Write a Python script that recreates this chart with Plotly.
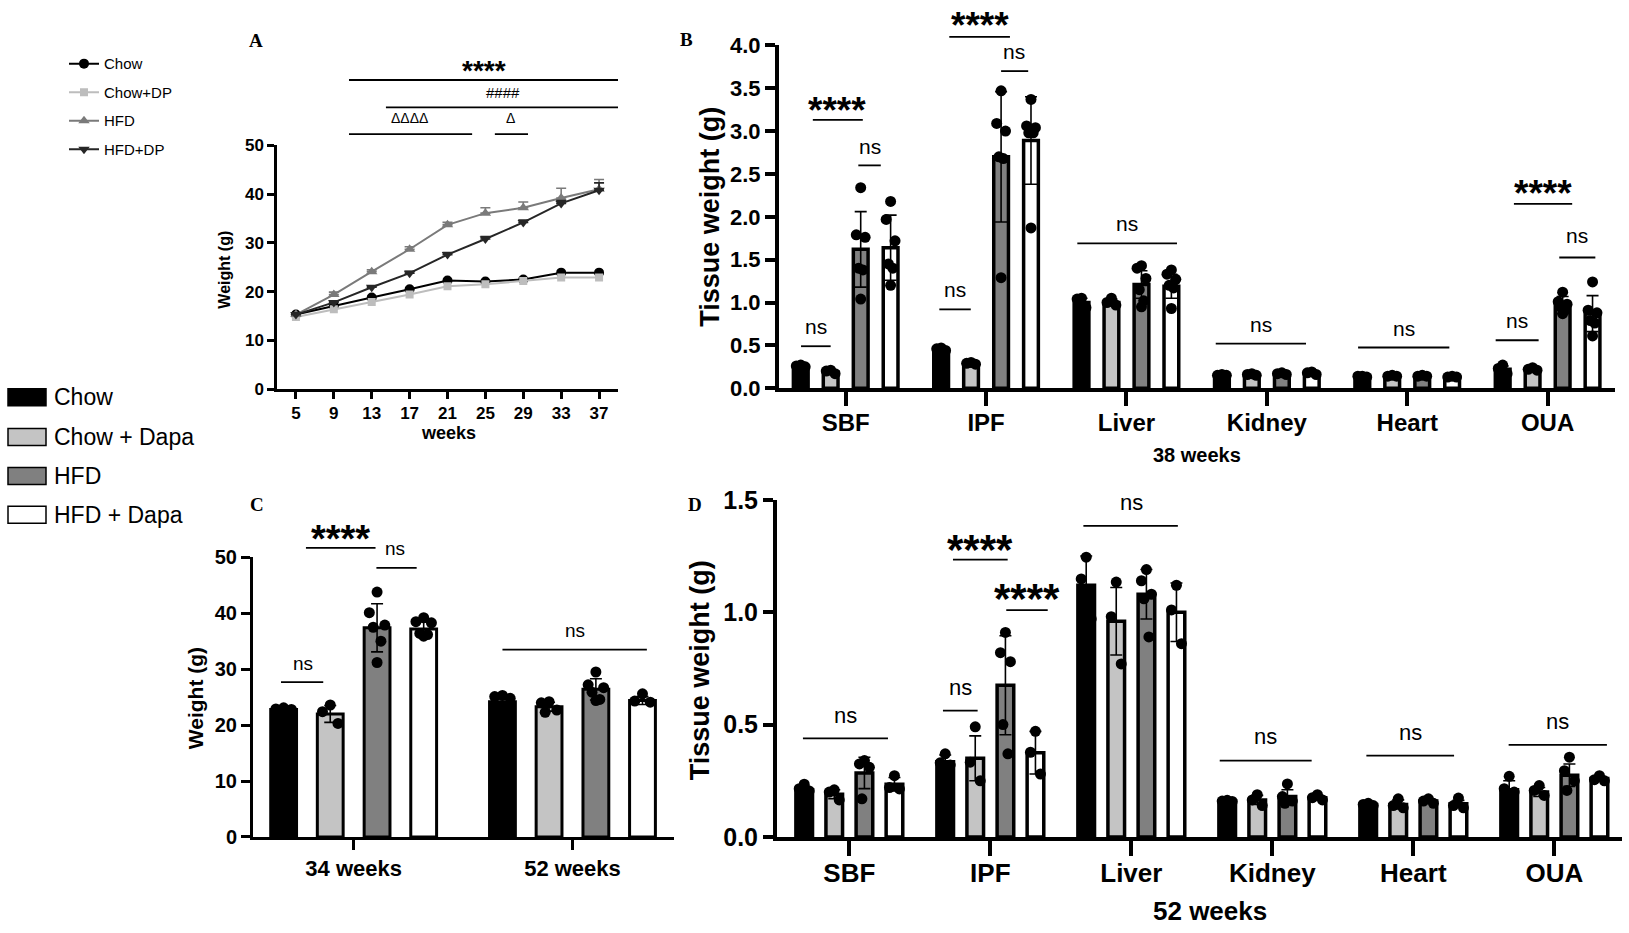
import numpy as np
import plotly.graph_objects as go

W, H = 1629, 933
SANS = "Liberation Sans, Arial, sans-serif"
NARROW = "Liberation Sans Narrow, Arial Narrow, Liberation Sans, sans-serif"
SERIF = "Liberation Serif, Times New Roman, serif"

# the photographed page shows the figure slightly squeezed vertically,
# so reference pixel rows are mapped through this before use
TOP_BAND = 12.5
SQUEEZE = 0.9733

# ---------------- data ----------------
groups = ["Chow", "Chow + Dapa", "HFD", "HFD + Dapa"]
bar_colors = ["#000000", "#c4c4c4", "#808080", "#ffffff"]

# A: body weight curve
weeks = [5, 9, 13, 17, 21, 25, 29, 33, 37]
a_chow = [15.3, 17.1, 18.8, 20.5, 22.3, 22.1, 22.5, 23.9, 23.9]
a_chow_dp = [14.8, 16.4, 17.9, 19.4, 21.1, 21.5, 22.2, 22.9, 22.9]
a_hfd = [15.3, 19.4, 24.1, 28.7, 33.7, 36.1, 37.2, 39.2, 41.0]
a_hfd_dp = [15.3, 17.8, 20.9, 23.8, 27.6, 30.8, 34.2, 38.1, 40.8]
a_hfd_err = [0.3, 0.5, 0.4, 0.5, 0.5, 1.1, 1.2, 2.0, 2.0]
a_hfd_dp_err = [0.3, 0.3, 0.3, 0.4, 0.4, 0.5, 0.5, 0.6, 1.5]

# B: tissue weight at 38 weeks
tissues = ["SBF", "IPF", "Liver", "Kidney", "Heart", "OUA"]
b_mean_chow = [0.25, 0.42, 1.00, 0.15, 0.14, 0.22]
b_mean_chow_dapa = [0.19, 0.28, 1.00, 0.15, 0.14, 0.21]
b_mean_hfd = [1.62, 2.70, 1.21, 0.16, 0.14, 0.97]
b_mean_hfd_dapa = [1.64, 2.89, 1.19, 0.17, 0.13, 0.87]
b_sd_chow = [0.02, 0.05, 0.05, 0.01, 0.01, 0.04]
b_sd_chow_dapa = [0.02, 0.01, 0.04, 0.01, 0.01, 0.02]
b_sd_hfd = [0.44, 0.76, 0.16, 0.01, 0.01, 0.10]
b_sd_hfd_dapa = [0.38, 0.51, 0.14, 0.02, 0.01, 0.21]
b_pts_chow = [[0.27, 0.26, 0.25], [0.47, 0.46, 0.44], [1.05, 1.04, 0.94],
              [0.16, 0.15, 0.15], [0.14, 0.14, 0.13], [0.27, 0.23, 0.17]]
b_pts_chow_dapa = [[0.21, 0.20, 0.17], [0.30, 0.29, 0.28], [1.05, 1.00, 0.97],
                   [0.17, 0.16, 0.15], [0.15, 0.14, 0.14], [0.24, 0.22, 0.21]]
b_pts_hfd = [[2.34, 1.79, 1.76, 1.40, 1.38, 1.04], [3.47, 3.09, 3.00, 2.70, 2.68, 1.29],
             [1.43, 1.40, 1.28, 1.15, 1.02, 0.95], [0.18, 0.17, 0.16],
             [0.15, 0.14, 0.14], [1.12, 1.01, 0.98, 0.95, 0.91, 0.87]]
b_pts_hfd_dapa = [[2.18, 1.97, 1.72, 1.45, 1.40, 1.20], [3.37, 3.06, 3.04, 2.98, 2.98, 1.87],
                  [1.38, 1.33, 1.27, 1.20, 1.17, 0.93], [0.19, 0.18, 0.16],
                  [0.14, 0.13, 0.13], [1.24, 0.91, 0.88, 0.79, 0.76, 0.61]]

# C: body weight at 34 and 52 weeks
c_ages = ["34 weeks", "52 weeks"]
c_mean_chow = [22.8, 24.2]
c_mean_chow_dapa = [22.0, 23.3]
c_mean_hfd = [37.4, 26.4]
c_mean_hfd_dapa = [37.2, 24.4]
c_sd_chow = [0.3, 0.9]
c_sd_chow_dapa = [1.5, 0.8]
c_sd_hfd = [4.3, 1.9]
c_sd_hfd_dapa = [1.4, 0.7]
c_pts_chow = [[23.1, 22.9, 22.8, 22.6], [25.3, 25.1, 24.8, 23.0, 22.8]]
c_pts_chow_dapa = [[23.6, 22.4, 20.3], [24.2, 24.0, 22.7, 22.3]]
c_pts_hfd = [[43.8, 40.1, 37.9, 37.5, 35.0, 31.2], [29.5, 27.2, 26.7, 25.9, 24.6, 24.4]]
c_pts_hfd_dapa = [[39.2, 38.5, 38.3, 36.4, 36.2, 35.9], [25.6, 24.3, 24.1]]

# D: tissue weight at 52 weeks
d_mean_chow = [0.21, 0.335, 1.12, 0.16, 0.145, 0.21]
d_mean_chow_dapa = [0.19, 0.35, 0.96, 0.165, 0.145, 0.20]
d_mean_hfd = [0.285, 0.675, 1.08, 0.18, 0.16, 0.275]
d_mean_hfd_dapa = [0.235, 0.375, 1.00, 0.175, 0.148, 0.26]
d_sd_chow = [0.015, 0.03, 0.13, 0.005, 0.005, 0.04]
d_sd_chow_dapa = [0.02, 0.10, 0.15, 0.02, 0.02, 0.02]
d_sd_hfd = [0.07, 0.22, 0.11, 0.03, 0.01, 0.05]
d_sd_hfd_dapa = [0.03, 0.095, 0.13, 0.01, 0.015, 0.01]
d_pts_chow = [[0.235, 0.215, 0.205], [0.37, 0.33, 0.32], [1.245, 1.148, 0.97],
              [0.163, 0.16, 0.158], [0.15, 0.145, 0.14], [0.27, 0.215, 0.20]]
d_pts_chow_dapa = [[0.21, 0.20, 0.165], [0.49, 0.333, 0.25], [1.134, 0.98, 0.77],
                   [0.188, 0.165, 0.14], [0.17, 0.14, 0.13], [0.229, 0.207, 0.185]]
d_pts_hfd = [[0.34, 0.325, 0.31, 0.17], [0.91, 0.82, 0.78, 0.50, 0.37],
             [1.19, 1.14, 1.08, 1.06, 0.89], [0.236, 0.18, 0.16, 0.15],
             [0.17, 0.16, 0.15], [0.355, 0.295, 0.25, 0.207]]
d_pts_hfd_dapa = [[0.273, 0.22, 0.214], [0.47, 0.377, 0.28], [1.12, 1.01, 0.86],
                  [0.188, 0.175, 0.165], [0.173, 0.14, 0.13], [0.273, 0.255, 0.25]]

# ---------------- layout helpers ----------------
OFFSETS = [-0.32, -0.107, 0.107, 0.32]


def px(x):
    return x / W


def py(y):
    return 1 - (y - TOP_BAND) / (SQUEEZE * H)


def jitter(n, bar_w):
    pattern = [0.0, -0.3, 0.3, -0.15, 0.15, 0.0]
    return [pattern[k % len(pattern)] * bar_w for k in range(n)]


def add_bar_panel(fig, xa, ya, means, sds, pts, bar_w, dot_size, line_w):
    for g in range(4):
        xs = [i + OFFSETS[g] for i in range(len(means[g]))]
        fig.add_trace(go.Bar(
            x=xs, y=means[g], width=bar_w, xaxis=xa, yaxis=ya,
            marker=dict(color=bar_colors[g], line=dict(color="black", width=line_w)),
            error_y=dict(type="data", array=sds[g], color="black", thickness=1.6, width=6),
            showlegend=False, hoverinfo="skip",
        ))
    for g in range(4):
        dx, dy = [], []
        for i, vals in enumerate(pts[g]):
            dx += [i + OFFSETS[g] + s for s in jitter(len(vals), bar_w)]
            dy += vals
        fig.add_trace(go.Scatter(
            x=dx, y=dy, mode="markers", xaxis=xa, yaxis=ya,
            marker=dict(color="black", size=dot_size), showlegend=False, hoverinfo="skip",
        ))


def axis_style(lw, tl, size, family=SANS):
    return dict(
        showline=True, linecolor="black", linewidth=lw, ticks="outside", ticklen=tl,
        tickwidth=lw, tickcolor="black", showgrid=False, zeroline=False,
        tickfont=dict(family=family, size=size, color="black", weight="bold"),
    )


def add_sig(fig, xa, ya, ymax, x0, x1, yl, text, tx, ty, size, bold=False, family=SANS):
    fig.add_shape(type="line", xref=xa, yref=f"{ya} domain", x0=x0, x1=x1,
                  y0=yl / ymax, y1=yl / ymax, line=dict(color="black", width=1.8))
    shift = -0.22 * size if "*" in text else 0
    fig.add_annotation(xref=xa, yref=f"{ya} domain", x=tx, y=ty / ymax, text=text,
                       showarrow=False, yanchor="middle", yshift=shift,
                       font=dict(family=family, size=size, color="black",
                                 weight="bold" if bold else "normal"))


def add_text(fig, x, y, text, size, family=SANS, bold=True, angle=0, xanchor="center"):
    fig.add_annotation(xref="paper", yref="paper", x=px(x), y=py(y), text=text,
                       showarrow=False, textangle=angle, xanchor=xanchor, yanchor="middle",
                       font=dict(family=family, size=size, color="black",
                                 weight="bold" if bold else "normal"))


fig = go.Figure()

# ---------------- panel A ----------------
line_specs = [
    ("Chow", a_chow, None, "#000000", "circle", 10),
    ("Chow+DP", a_chow_dp, None, "#bdbdbd", "square", 8),
    ("HFD", a_hfd, a_hfd_err, "#7a7a7a", "triangle-up", 10),
    ("HFD+DP", a_hfd_dp, a_hfd_dp_err, "#262626", "triangle-down", 10),
]
for name, ys, err, col, sym, size in line_specs:
    fig.add_trace(go.Scatter(
        x=weeks, y=ys, name=name, mode="lines+markers", xaxis="x", yaxis="y",
        line=dict(color=col, width=2), legendgroup=name,
        marker=dict(color=col, symbol=sym, size=size),
        error_y=None if err is None else dict(type="data", array=err,
                                                arrayminus=[0] * len(err), symmetric=False,
                                                color=col, thickness=1.6, width=5),
    ))

# ---------------- panels B, C, D ----------------
add_bar_panel(fig, "x2", "y2",
              [b_mean_chow, b_mean_chow_dapa, b_mean_hfd, b_mean_hfd_dapa],
              [b_sd_chow, b_sd_chow_dapa, b_sd_hfd, b_sd_hfd_dapa],
              [b_pts_chow, b_pts_chow_dapa, b_pts_hfd, b_pts_hfd_dapa],
              bar_w=0.105, dot_size=11, line_w=3.5)
add_bar_panel(fig, "x3", "y3",
              [c_mean_chow, c_mean_chow_dapa, c_mean_hfd, c_mean_hfd_dapa],
              [c_sd_chow, c_sd_chow_dapa, c_sd_hfd, c_sd_hfd_dapa],
              [c_pts_chow, c_pts_chow_dapa, c_pts_hfd, c_pts_hfd_dapa],
              bar_w=0.118, dot_size=11, line_w=3)
add_bar_panel(fig, "x4", "y4",
              [d_mean_chow, d_mean_chow_dapa, d_mean_hfd, d_mean_hfd_dapa],
              [d_sd_chow, d_sd_chow_dapa, d_sd_hfd, d_sd_hfd_dapa],
              [d_pts_chow, d_pts_chow_dapa, d_pts_hfd, d_pts_hfd_dapa],
              bar_w=0.118, dot_size=11, line_w=3.5)

# ---------------- axes ----------------
fig.update_layout(
    width=W, height=H, margin=dict(l=0, r=0, t=0, b=0),
    paper_bgcolor="white", plot_bgcolor="white", barmode="overlay",
    font=dict(family=SANS, color="black"),
    xaxis=dict(domain=[px(277), px(618)], range=[3, 39], anchor="y",
               tickvals=weeks, **axis_style(2.5, 7, 17, NARROW)),
    yaxis=dict(domain=[py(389), py(144.3)], range=[0, 50], anchor="x",
               tickvals=[0, 10, 20, 30, 40, 50], **axis_style(2.5, 7, 17, NARROW)),
    xaxis2=dict(domain=[px(779), px(1615)], range=[-0.475, 5.48], anchor="y2",
                tickvals=list(range(6)), ticktext=tissues, ticklabelstandoff=-4,
                **axis_style(4, 14, 24)),
    yaxis2=dict(domain=[py(388), py(44)], range=[0, 4], anchor="x2",
                tickvals=[0, 0.5, 1, 1.5, 2, 2.5, 3, 3.5, 4], tickformat=".1f",
                **axis_style(4, 10, 22)),
    xaxis3=dict(domain=[px(253), px(674)], range=[-0.46, 1.464], anchor="y3",
                tickvals=[0, 1], ticktext=c_ages, **axis_style(3, 10, 22)),
    yaxis3=dict(domain=[py(838.3), py(557.7)], range=[0, 50], anchor="x3",
                tickvals=[0, 10, 20, 30, 40, 50], **axis_style(3, 9, 20, NARROW)),
    xaxis4=dict(domain=[px(777), px(1622)], range=[-0.513, 5.48], anchor="y4",
                tickvals=list(range(6)), ticktext=tissues, ticklabelstandoff=-5,
                **axis_style(4, 15, 26)),
    yaxis4=dict(domain=[py(838.3), py(500)], range=[0, 1.5], anchor="x4",
                tickvals=[0, 0.5, 1, 1.5], tickformat=".1f", **axis_style(4, 10, 25)),
    legend=dict(x=px(64), y=py(46), xanchor="left", yanchor="top",
                font=dict(family=SANS, size=15, color="black"),
                bgcolor="rgba(0,0,0,0)", tracegroupgap=6, itemwidth=30),
    showlegend=True,
)

# ---------------- significance marks ----------------
# panel A (weeks, grams)
add_sig(fig, "x", "y", 50, 10.6, 39, 63.4, "****", 24.9, 66.6, 28, bold=True)
add_sig(fig, "x", "y", 50, 14.5, 39, 57.8, "####", 26.9, 60.9, 15)
add_sig(fig, "x", "y", 50, 10.6, 23.6, 52.3, "ΔΔΔΔ", 17.0, 55.6, 14)
add_sig(fig, "x", "y", 50, 26.0, 29.5, 52.3, "Δ", 27.7, 55.6, 14)

# panel B
b_sigs = [
    (-0.234, 0.122, 3.13, "****", -0.06, 3.34, 37, True),
    (0.09, 0.25, 2.60, "ns", 0.17, 2.82, 21, False),
    (-0.318, -0.107, 0.49, "ns", -0.21, 0.72, 21, False),
    (0.738, 1.17, 4.10, "****", 0.954, 4.33, 37, True),
    (1.107, 1.30, 3.70, "ns", 1.20, 3.93, 21, False),
    (0.667, 0.891, 0.92, "ns", 0.78, 1.15, 21, False),
    (1.65, 2.36, 1.69, "ns", 2.003, 1.92, 21, False),
    (2.636, 3.279, 0.52, "ns", 2.96, 0.745, 21, False),
    (3.65, 4.30, 0.475, "ns", 3.98, 0.70, 21, False),
    (4.76, 5.175, 2.15, "****", 4.97, 2.37, 37, True),
    (5.083, 5.34, 1.525, "ns", 5.21, 1.78, 21, False),
    (4.63, 4.936, 0.56, "ns", 4.78, 0.79, 21, False),
]
for x0, x1, yl, t, tx, ty, s, b in b_sigs:
    add_sig(fig, "x2", "y2", 4, x0, x1, yl, t, tx, ty, s, b)

# panel C
c_sigs = [
    (-0.218, 0.10, 51.7, "****", -0.06, 54.8, 38, True),
    (0.104, 0.288, 48.1, "ns", 0.19, 51.5, 19, False),
    (-0.332, -0.139, 27.7, "ns", -0.233, 31.1, 19, False),
    (0.68, 1.34, 33.5, "ns", 1.01, 37.0, 19, False),
]
for x0, x1, yl, t, tx, ty, s, b in c_sigs:
    add_sig(fig, "x3", "y3", 50, x0, x1, yl, t, tx, ty, s, b, NARROW if not b else SANS)

# panel D
d_sigs = [
    (-0.329, 0.274, 0.439, "ns", -0.024, 0.539, 22, False),
    (0.735, 1.123, 1.234, "****", 0.929, 1.322, 42, True),
    (1.113, 1.407, 1.009, "****", 1.26, 1.10, 42, True),
    (0.664, 0.91, 0.562, "ns", 0.787, 0.665, 22, False),
    (1.66, 2.33, 1.384, "ns", 2.0, 1.488, 22, False),
    (2.627, 3.279, 0.34, "ns", 2.953, 0.446, 22, False),
    (3.667, 4.289, 0.362, "ns", 3.981, 0.465, 22, False),
    (4.676, 5.373, 0.41, "ns", 5.024, 0.514, 22, False),
]
for x0, x1, yl, t, tx, ty, s, b in d_sigs:
    add_sig(fig, "x4", "y4", 1.5, x0, x1, yl, t, tx, ty, s, b)

# ---------------- titles, panel letters, bar legend ----------------
add_text(fig, 225, 269, "Weight (g)", 16, NARROW, angle=-90)
add_text(fig, 448, 433, "weeks", 18)
add_text(fig, 710, 216, "Tissue weight (g)", 27, angle=-90)
add_text(fig, 1197, 455, "38 weeks", 20)
add_text(fig, 195, 699, "Weight (g)", 21, angle=-90)
add_text(fig, 700, 671, "Tissue weight (g)", 27, angle=-90)
add_text(fig, 1210, 913, "52 weeks", 26)

for letter, x, y in [("A", 256, 39), ("B", 686, 38), ("C", 257, 505), ("D", 695, 505)]:
    add_text(fig, x, y, letter, 19, SERIF)

legend_rows = [397, 437, 476, 515]
for name, col, yc in zip(groups, bar_colors, legend_rows):
    fig.add_shape(type="rect", xref="paper", yref="paper",
                  x0=px(8), x1=px(46), y0=py(yc + 8.5), y1=py(yc - 8.5),
                  fillcolor=col, line=dict(color="black", width=1.5))
    add_text(fig, 52, yc, name, 23, bold=False, xanchor="left")

pin = ("var d = document.getElementById('{plot_id}');"
       "d.style.position = 'fixed'; d.style.left = '0px'; d.style.top = '0px';"
       "document.body.style.margin = '0px'; document.body.style.overflow = 'hidden';")
fig.write_html("out.html", post_script=pin, config={"displayModeBar": False})
